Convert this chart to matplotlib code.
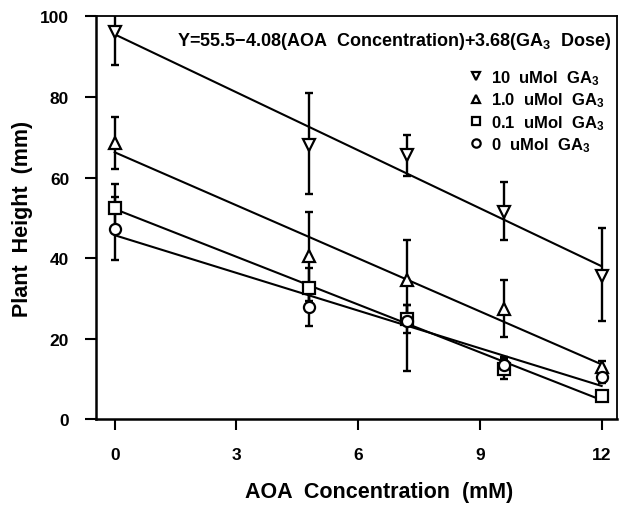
import numpy as np
import matplotlib
matplotlib.use('Agg')
import matplotlib.pyplot as plt

plt.rcParams['font.family'] = 'Liberation Sans'
plt.rcParams['font.weight'] = 'bold'
plt.rcParams['axes.labelweight'] = 'bold'
plt.rcParams['mathtext.fontset'] = 'custom'
plt.rcParams['mathtext.bf'] = 'Liberation Sans:bold'
plt.rcParams['mathtext.default'] = 'bf'

# AOA concentration (mM)
aoa = [0, 4.8, 7.2, 9.6, 12]

# plant height (mm) per GA3 dose, with lower / upper error bar lengths
ga10 = [96, 68, 65.5, 51.5, 35.5]
ga10_lo = [8, 12, 5, 7, 11]
ga10_hi = [8, 13, 5, 7.5, 12]

ga1 = [68.5, 40.5, 34.5, 27.5, 13]
ga1_lo = [6.5, 11, 10, 7, 1.5]
ga1_hi = [6.5, 11, 10, 7, 1.5]

ga01 = [52.5, 32.5, 25, 12.5, 5.8]
ga01_lo = [6, 5, 3.5, 2.5, 0]
ga01_hi = [6, 5, 3.5, 2.5, 0]

ga0 = [47.3, 28, 24.5, 13.5, 10.5]
ga0_lo = [7.8, 4.8, 12.5, 2, 1.5]
ga0_hi = [7.8, 4.8, 3.8, 2, 1.5]

labels = ['10  uMol  GA$_3$', '1.0  uMol  GA$_3$', '0.1  uMol  GA$_3$', '0  uMol  GA$_3$']
markers = ['v', '^', 's', 'o']
equation = 'Y=55.5\u22124.08(AOA  Concentration)+3.68(GA$_3$  Dose)'

fig = plt.figure(figsize=(6.21, 5.06), dpi=100)
ax = fig.add_axes([0.154, 0.169, 0.839, 0.797])

series = [(ga10, ga10_lo, ga10_hi), (ga1, ga1_lo, ga1_hi),
          (ga01, ga01_lo, ga01_hi), (ga0, ga0_lo, ga0_hi)]
x = np.array(aoa)
handles = []
for (y, lo, hi), m, lab in zip(series, markers, labels):
    ax.errorbar(x, y, yerr=[lo, hi], fmt='none', ecolor='black',
                elinewidth=1.7, capsize=2.6, capthick=1.7, zorder=2)
    slope, icpt = np.polyfit(x, y, 1)
    xx = np.array([0, 12])
    ax.plot(xx, icpt + slope * xx, color='black', lw=1.5, zorder=3)
    h, = ax.plot(x, y, ls='none', marker=m, ms=8, mfc='white', mec='black',
                 mew=1.6, zorder=4, label=lab)
    handles.append(h)

ax.set_xlim(-0.47, 12.37)
ax.set_ylim(0, 100)
ax.set_xticks([0, 3, 6, 9, 12])
ax.set_yticks([0, 20, 40, 60, 80, 100])
ax.tick_params(direction='out', length=8, width=1.5, labelsize=12.5)
ax.tick_params(axis='y', pad=11)
ax.tick_params(axis='x', pad=12)
for s in ['left', 'bottom']:
    ax.spines[s].set_linewidth(1.8)
for s in ['top', 'right']:
    ax.spines[s].set_linewidth(1.3)

ax.set_xlabel('AOA  Concentration  (mM)', fontsize=15.5)
ax.set_ylabel('Plant  Height  (mm)', fontsize=15.5)
ax.xaxis.set_label_coords(0.545, -0.153)
ax.yaxis.set_label_coords(-0.12, 0.5)

ax.text(0.99, 0.94, equation, transform=ax.transAxes, ha='right',
        va='center', fontsize=13)

leg = ax.legend(handles=handles, loc='upper right', bbox_to_anchor=(1.0, 0.9),
                frameon=False, fontsize=12, handlelength=0.7, handletextpad=0.6,
                labelspacing=0.22, borderaxespad=0.3)
for h in leg.legend_handles:
    h.set_markersize(6)

plt.savefig('out.png', dpi=100)
